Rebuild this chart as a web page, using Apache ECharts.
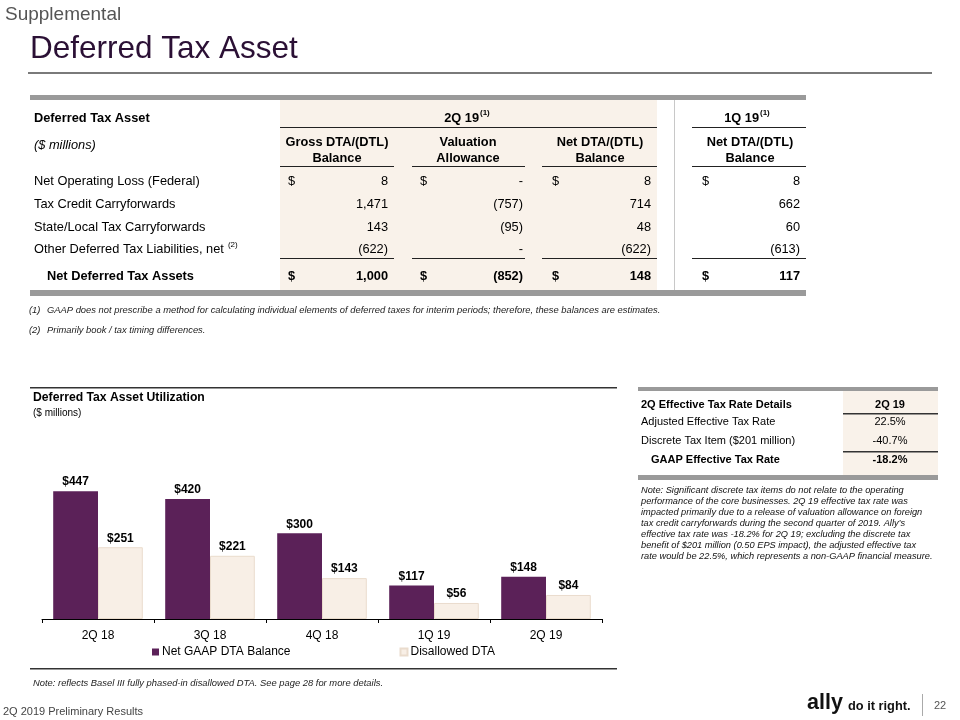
<!DOCTYPE html>
<html><head><meta charset="utf-8">
<script src="https://cdn.jsdelivr.net/npm/echarts@6/dist/echarts.min.js"></script>
<style>html,body{margin:0;padding:0;background:#fff}#c{width:960px;height:720px}</style>
</head><body><div id="c"></div>
<script>
// ---------- data ----------
const categories = ['2Q 18', '3Q 18', '4Q 18', '1Q 19', '2Q 19'];
const netGaapDTA = [447, 420, 300, 117, 148];
const disallowedDTA = [251, 221, 143, 56, 84];
const seriesNames = ['Net GAAP DTA Balance', 'Disallowed DTA'];

const dtaRowLabels = ['Net Operating Loss (Federal)', 'Tax Credit Carryforwards', 'State/Local Tax Carryforwards', 'Other Deferred Tax Liabilities, net'];
const grossBalance = ['8', '1,471', '143', '(622)'];
const valuationAllowance = ['-', '(757)', '(95)', '-'];
const netBalance2Q = ['8', '714', '48', '(622)'];
const netBalance1Q = ['8', '662', '60', '(613)'];
const totalLabel = 'Net Deferred Tax Assets';
const totals = ['1,000', '(852)', '148', '117'];

const etrRowLabels = ['Adjusted Effective Tax Rate', 'Discrete Tax Item ($201 million)', 'GAAP Effective Tax Rate'];
const etrValues = ['22.5%', '-40.7%', '-18.2%'];

const noteLines = [
  'Note: Significant discrete tax items do not relate to the operating',
  'performance of the core businesses. 2Q 19 effective tax rate was',
  'impacted primarily due to a release of valuation allowance on foreign',
  "tax credit carryforwards during the second quarter of 2019. Ally\u2019s",
  'effective tax rate was -18.2% for 2Q 19; excluding the discrete tax',
  'benefit of $201 million (0.50 EPS impact), the adjusted effective tax',
  'rate would be 22.5%, which represents a non-GAAP financial measure.'
];

// ---------- helpers ----------
const FF = '"Liberation Sans", Arial, Helvetica, sans-serif';
const mctx = document.createElement('canvas').getContext('2d');
function tw(t, size, bold, italic) {
  mctx.font = (italic ? 'italic ' : '') + (bold ? 'bold ' : '') + size + 'px ' + FF;
  return mctx.measureText(t).width;
}
const G = [];
function txt(t, x, y, o) {
  o = o || {};
  G.push({
    type: 'text', x: x, y: y, silent: true, z: 10,
    style: {
      text: t, fill: o.c || '#000',
      fontSize: o.s || 13, fontFamily: o.f || FF,
      fontWeight: o.b ? 'bold' : 'normal', fontStyle: o.i ? 'italic' : 'normal',
      textAlign: o.a || 'left', textVerticalAlign: 'middle'
    }
  });
}
function rect(x, y, w, h, c) {
  G.push({ type: 'rect', silent: true, z: 1, shape: { x: x, y: y, width: w, height: h }, style: { fill: c } });
}
function hline(x1, x2, y, c, w) { rect(x1, y, x2 - x1, w || 1, c || '#222'); }

// ---------- header ----------
txt('Supplemental', 5, 15, { s: 19, c: '#555' });
txt('Deferred Tax Asset', 30, 49, { s: 31.5, c: '#2b1035' });
hline(28, 932, 72, '#7a7a7a', 2);

// ---------- DTA table ----------
const TS = 12.8;
rect(30, 95, 776, 5, '#9a9a9a');
rect(280, 100, 377, 190, '#f9f2ea');
rect(674, 100, 1, 190, '#c8c8c8');
rect(30, 290, 776, 6, '#9a9a9a');

const spans2Q = [[280, 394], [412, 525], [542, 657], [692, 806]];
hline(280, 657, 127);
hline(692, 806, 127);
spans2Q.forEach(s => { hline(s[0], s[1], 166); hline(s[0], s[1], 258); });

txt('Deferred Tax Asset', 34, 118, { s: TS, b: true });
txt('($ millions)', 34, 145, { s: TS, i: true });

txt('2Q 19', 479, 118, { s: TS, b: true, a: 'right' });
txt('(1)', 480, 113, { s: 8, b: true });
txt('1Q 19', 759, 118, { s: TS, b: true, a: 'right' });
txt('(1)', 760, 113, { s: 8, b: true });

const hdr = [[337, 'Gross DTA/(DTL)', 'Balance'], [468, 'Valuation', 'Allowance'], [600, 'Net DTA/(DTL)', 'Balance'], [750, 'Net DTA/(DTL)', 'Balance']];
hdr.forEach(h => { txt(h[1], h[0], 142, { s: TS, b: true, a: 'center' }); txt(h[2], h[0], 158, { s: TS, b: true, a: 'center' }); });

const rowY = [181, 204, 227, 249];
const dollarX = [288, 420, 552, 702];
const rightX = [388, 523, 651, 800];
const cols = [grossBalance, valuationAllowance, netBalance2Q, netBalance1Q];
dtaRowLabels.forEach((lab, i) => {
  txt(lab, 34, rowY[i], { s: TS });
  cols.forEach((col, j) => {
    txt(col[i], rightX[j], rowY[i], { s: TS, a: 'right' });
    if (i === 0) txt('$', dollarX[j], rowY[i], { s: TS });
  });
});
txt('(2)', 34 + tw(dtaRowLabels[3], TS) + 4, 245, { s: 8 });

txt(totalLabel, 47, 276, { s: TS, b: true });
totals.forEach((v, j) => {
  txt('$', dollarX[j], 276, { s: TS, b: true });
  txt(v, rightX[j], 276, { s: TS, b: true, a: 'right' });
});

txt('(1)', 29, 310, { s: 9.4, i: true, c: '#222' });
txt('GAAP does not prescribe a method for calculating individual elements of deferred taxes for interim periods; therefore, these balances are estimates.', 47, 310, { s: 9.4, i: true, c: '#222' });
txt('(2)', 29, 330, { s: 9.4, i: true, c: '#222' });
txt('Primarily book / tax timing differences.', 47, 330, { s: 9.4, i: true, c: '#222' });

// ---------- chart frame ----------
hline(30, 617, 387, '#333', 1.5);
txt('Deferred Tax Asset Utilization', 33, 398, { s: 12.2, b: true });
txt('($ millions)', 33, 413, { s: 10 });
hline(30, 617, 668, '#333', 1.5);
txt('Note: reflects Basel III fully phased-in disallowed DTA. See page 28 for more details.', 33, 683, { s: 9.4, i: true, c: '#222' });

// ---------- effective tax rate table ----------
rect(638, 387, 300, 4, '#9a9a9a');
rect(843, 391, 95, 84, '#f9f2ea');
rect(638, 475, 300, 5, '#9a9a9a');
txt('2Q Effective Tax Rate Details', 641, 405, { s: 11, b: true });
txt('2Q 19', 890, 405, { s: 11, b: true, a: 'center' });
hline(843, 938, 413, '#333', 1.5);
hline(843, 938, 451, '#333', 1.5);
const etrY = [422, 441, 460];
etrRowLabels.forEach((lab, i) => {
  const last = i === etrRowLabels.length - 1;
  txt(lab, last ? 651 : 641, etrY[i], { s: 11, b: last });
  txt(etrValues[i], 890, etrY[i], { s: 11, b: last, a: 'center' });
});
noteLines.forEach((l, i) => txt(l, 641, 490 + i * 11, { s: 9.25, i: true, c: '#111' }));

// ---------- footer ----------
txt('2Q 2019 Preliminary Results', 3, 712, { s: 11, c: '#444' });
txt('ally', 807, 703, { s: 21.5, b: true, c: '#111' });
txt('do it right.', 848, 706, { s: 12.8, b: true, c: '#111' });
rect(922, 694, 1, 22, '#aaa');
txt('22', 934, 706, { s: 11, c: '#555' });

// ---------- chart ----------
const chart = echarts.init(document.getElementById('c'), null, { renderer: 'canvas' });
const lbl = {
  show: true, position: 'top', distance: 3,
  fontSize: 12, fontWeight: 'bold', color: '#000', fontFamily: FF,
  formatter: p => '$' + p.value
};
chart.setOption({
  animation: false,
  backgroundColor: '#fff',
  textStyle: { fontFamily: FF },
  grid: { left: 42, right: 358, top: 476, bottom: 101, containLabel: false },
  legend: {
    data: seriesNames, left: 152, top: 646, padding: 0,
    icon: 'rect', itemWidth: 7, itemHeight: 7, itemGap: 109,
    textStyle: { fontSize: 12, color: '#000', fontFamily: FF, padding: [0, 0, 0, -2] },
    selectedMode: false
  },
  xAxis: {
    type: 'category', data: categories,
    axisLine: { lineStyle: { color: '#000', width: 1 } },
    axisTick: { show: true, length: 4, lineStyle: { color: '#000' } },
    axisLabel: { fontSize: 12, color: '#000', margin: 11, fontFamily: FF },
    splitLine: { show: false }
  },
  yAxis: { type: 'value', min: 0, max: 500, show: false },
  series: [
    {
      name: seriesNames[0], type: 'bar', data: netGaapDTA,
      barGap: '0%', barCategoryGap: '20%',
      itemStyle: { color: '#5b2158' }, label: lbl
    },
    {
      name: seriesNames[1], type: 'bar', data: disallowedDTA,
      itemStyle: { color: '#f8efe6', borderColor: '#eadccd', borderWidth: 1 }, label: lbl
    }
  ],
  graphic: { elements: G }
});
</script>
</body></html>
